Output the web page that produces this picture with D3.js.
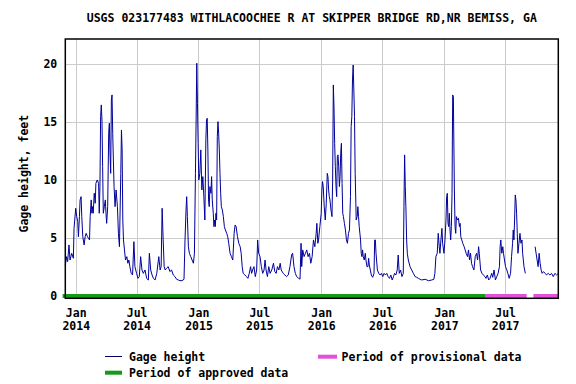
<!DOCTYPE html>
<html>
<head>
<meta charset="utf-8">
<script src="https://cdn.jsdelivr.net/npm/d3@7"></script>
<style>
  body { margin: 0; background: #fff; }
  text { font-family: "DejaVu Sans Mono", monospace; font-weight: bold; font-size: 11.5px; fill: #000; }
</style>
</head>
<body>
<div id="chart"></div>
<script>
const title = "USGS 023177483 WITHLACOOCHEE R AT SKIPPER BRIDGE RD,NR BEMISS, GA";
const yLabel = "Gage height, feet";
const origin = "2014-01-01";

// days since 2014-01-01
const days = [
  -31,-27,-24,-20,-17,-12,-7,-5,0,3,
  6,8,11,13,16,18,21,25,28,31,
  35,38,41,43,46,48,50,52,55,58,
  60,64,68,70,72,74,76,78,80,82,
  85,88,90,92,95,98,100,102,104,106,
  108,110,112,114,117,120,124,127,130,134,
  136,138,140,142,145,148,152,155,158,161,
  165,169,173,176,181,185,189,193,197,201,
  206,211,216,219,223,227,231,236,241,247,
  251,254,257,260,263,266,270,275,280,285,
  290,295,300,305,310,316,322,325,328,330,
  332,335,338,342,346,350,353,356,358,360,
  362,364,366,369,372,375,378,381,384,385,
  387,389,391,393,395,397,399,402,404,406,
  409,411,413,415,417,419,421,423,425,427,
  429,431,433,436,439,442,445,449,452,455,
  459,463,467,471,474,477,481,485,489,492,
  495,498,503,508,512,516,520,523,526,530,
  534,538,541,544,548,552,556,560,563,566,
  570,574,578,583,588,592,596,600,604,608,
  611,617,622,627,632,637,642,645,649,653,
  657,663,667,670,672,675,679,683,687,691,
  695,699,703,707,711,715,717,720,722,726,
  730,732,734,736,739,742,745,748,750,752,
  754,756,759,762,764,766,768,770,772,774,
  776,778,780,782,784,786,788,790,792,794,
  796,799,802,805,808,811,814,817,819,821,
  823,825,827,829,831,833,834,837,839,841,
  843,845,847,849,851,853,855,858,861,863,
  866,869,871,873,876,879,883,887,889,891,
  893,897,901,905,909,913,917,921,925,929,
  933,937,941,945,948,952,956,959,962,966,
  970,974,976,978,980,982,984,986,989,994,
  999,1004,1009,1014,1019,1024,1029,1039,1049,1059,
  1065,1068,1071,1075,1078,1081,1083,1086,1089,1091,
  1095,1098,1101,1103,1105,1107,1109,1111,1113,1115,
  1117,1119,1120,1121,1123,1124,1126,1128,1130,1132,
  1135,1138,1141,1143,1145,1148,1151,1155,1158,1161,
  1165,1168,1171,1174,1177,1180,1184,1188,1192,1195,
  1198,1200,1204,1208,1212,1217,1220,1224,1228,1232,
  1237,1240,1244,1248,1252,1256,1260,1262,1264,1267,
  1270,1272,1275,1278,1282,1285,1289,1293,1296,1299,
  1301,1303,1305,1307,1309,1311,1313,1315,1318,1321,
  1324,1327,1329,1333,1337,1350,1366,1369,1372,1375,
  1378,1381,1384,1387,1391,1396,1400,1405,1410,1415,
  1420,1425,1430,1435
];

// gage height, feet (null = no data)
const gage = [
  2.67,3.39,2.96,4.40,3.10,3.68,3.25,5.83,7.56,6.84,
  6.41,5.11,6.84,8.28,8.56,6.84,5.11,4.40,5.11,5.40,
  5.11,4.97,4.83,6.84,8.28,7.13,7.70,7.13,8.85,7.99,
  9.71,10.0,9.71,7.13,9.43,15.46,16.47,15.17,11.15,7.13,
  7.70,8.28,7.13,6.26,7.70,14.02,14.89,12.30,10.57,16.90,
  17.33,14.02,11.72,9.43,7.70,9.14,7.70,5.40,4.25,10.57,
  14.31,12.59,6.55,4.83,3.97,3.10,3.39,2.82,3.10,2.53,
  1.95,1.81,4.68,2.53,1.95,1.52,1.67,3.39,2.24,1.95,
  2.24,1.52,1.38,3.68,2.24,1.81,1.52,1.38,1.95,3.39,
  2.24,2.53,7.56,4.83,2.53,2.24,2.39,2.53,2.10,2.24,
  1.81,1.67,1.44,1.38,1.32,1.32,1.44,4.83,7.41,8.56,
  6.84,4.25,3.68,3.39,3.10,2.82,3.68,10.57,15.17,20.06,
  16.61,13.16,10.0,10.57,12.59,9.14,10.29,8.56,6.55,8.85,
  13.45,15.17,15.32,12.59,8.28,7.70,9.43,8.85,10.29,8.28,
  7.13,5.98,6.55,5.98,7.13,6.55,13.74,15.03,14.02,12.59,
  10.57,8.85,7.70,7.41,6.84,5.98,5.69,5.40,5.11,4.54,
  3.68,3.39,3.10,5.40,6.12,5.98,5.11,4.54,4.25,3.68,
  2.53,1.95,1.81,1.67,1.52,1.95,2.53,1.95,2.24,2.53,
  1.67,2.24,4.83,3.68,3.39,2.53,1.95,2.24,3.10,2.24,
  1.67,2.53,1.95,2.24,2.82,2.10,1.95,2.53,2.24,2.82,
  2.24,1.95,1.81,1.67,1.81,2.53,3.53,3.68,2.53,1.95,
  1.67,1.52,1.45,4.54,2.53,3.97,3.39,3.68,3.97,3.39,
  3.68,2.82,3.39,4.83,4.25,5.40,6.26,4.54,4.83,5.98,
  7.13,9.14,9.86,9.43,7.70,6.55,7.99,10.57,10.29,9.14,
  8.56,8.28,7.41,6.84,10.0,18.19,16.32,13.16,11.15,9.43,
  8.56,12.01,12.16,11.15,9.43,10.29,12.30,13.16,9.71,7.13,
  6.84,6.26,5.69,4.83,4.54,5.40,5.69,8.56,14.60,15.46,
  18.62,19.91,17.76,15.46,10.57,7.99,6.55,6.84,7.70,6.84,
  5.98,5.40,4.83,3.68,3.39,3.97,3.39,3.10,3.68,3.10,
  2.53,2.53,3.25,2.67,2.24,1.81,1.61,1.95,4.83,4.83,
  3.68,2.24,1.95,1.81,1.95,1.67,1.95,1.81,1.95,1.67,
  1.52,1.81,1.38,1.67,1.95,1.81,2.24,3.53,1.95,2.24,
  1.67,1.95,7.70,12.16,9.43,7.41,4.83,3.68,3.10,2.53,
  2.24,1.95,1.67,1.61,1.52,1.44,1.38,1.44,1.32,1.38,
  1.44,1.95,3.39,3.68,5.40,4.25,3.68,4.83,5.83,4.54,
  3.68,4.83,6.55,8.56,8.85,6.26,5.98,7.13,5.69,4.83,
  5.98,8.85,13.45,17.33,17.18,14.31,9.14,5.98,5.40,6.84,
  6.55,6.70,5.98,6.26,5.11,4.83,4.54,4.25,3.97,3.68,
  3.39,3.97,3.10,3.68,2.82,2.53,2.24,3.39,3.68,3.10,
  4.25,3.68,2.24,1.95,1.81,1.67,1.52,1.81,1.38,1.52,
  1.95,1.61,2.24,1.38,1.67,1.95,2.53,4.25,4.83,3.68,
  4.25,3.68,3.10,2.53,2.24,1.95,1.52,1.95,3.39,4.54,
  5.69,4.83,6.55,8.71,8.28,7.13,5.40,3.68,4.54,5.40,
  4.54,4.83,3.68,2.53,1.95,null,4.25,3.68,3.10,2.53,
  3.68,2.82,2.24,1.95,2.10,1.95,1.81,1.95,1.81,1.95,
  1.67,1.95,1.81,1.95
];

const periodStart = ["2013-11-23", "2017-05-02", "2017-09-23"];
const periodEnd   = ["2017-05-02", "2017-09-03", "2017-12-06"];
const periodKind  = ["approved", "provisional", "provisional"];

const yTicks = [0, 5, 10, 15, 20];
const legendLabels = ["Gage height", "Period of approved data", "Period of provisional data"];

const width = 576, height = 384;
const marginTop = 39, marginRight = 17.7, marginBottom = 85.7, marginLeft = 65.3;
const lineColor = "#00009c";
const kindColor = { approved: "#159a15", provisional: "#e052d8" };

const parse = d3.utcParse("%Y-%m-%d");
const t0 = parse(origin);
const data = days.map((d, i) => ({ date: d3.utcDay.offset(t0, d), value: gage[i] }));
const periods = periodStart.map((s, i) => ({ start: parse(s), end: parse(periodEnd[i]), kind: periodKind[i] }));

const x = d3.scaleUtc()
  .domain([parse("2013-12-01"), parse("2017-12-06")])
  .range([marginLeft, width - marginRight]);

const y = d3.scaleLinear()
  .domain([-0.2, 22.15])
  .range([height - marginBottom, marginTop]);

const svg = d3.select("#chart").append("svg")
  .attr("width", width)
  .attr("height", height)
  .attr("viewBox", [0, 0, width, height]);

svg.append("rect").attr("width", width).attr("height", height).attr("fill", "#fff");

const xTicks = x.ticks(d3.utcMonth.every(6));

// grid
svg.append("g")
  .attr("stroke", "#cccccc")
  .attr("stroke-width", 1)
  .selectAll("line")
  .data(xTicks)
  .join("line")
    .attr("x1", d => Math.round(x(d)) + 0.5)
    .attr("x2", d => Math.round(x(d)) + 0.5)
    .attr("y1", marginTop)
    .attr("y2", height - marginBottom);

svg.append("g")
  .attr("stroke", "#cccccc")
  .attr("stroke-width", 1)
  .selectAll("line")
  .data(yTicks.filter(d => d > 0))
  .join("line")
    .attr("x1", marginLeft)
    .attr("x2", width - marginRight)
    .attr("y1", d => Math.round(y(d)) + 0.5)
    .attr("y2", d => Math.round(y(d)) + 0.5);

// data line
const line = d3.line()
  .defined(d => d.value != null)
  .x(d => x(d.date))
  .y(d => y(d.value));

svg.append("path")
  .datum(data)
  .attr("fill", "none")
  .attr("stroke", lineColor)
  .attr("stroke-width", 1)
  .attr("stroke-linejoin", "miter")
  .attr("d", line);

// approval periods along zero
svg.append("g")
  .selectAll("rect")
  .data(periods)
  .join("rect")
    .attr("x", d => x(d.start))
    .attr("width", d => x(d.end) - x(d.start))
    .attr("y", y(0) - 2)
    .attr("height", 4)
    .attr("fill", d => kindColor[d.kind]);

// frame
svg.append("rect")
  .attr("x", marginLeft)
  .attr("y", marginTop)
  .attr("width", width - marginLeft - marginRight)
  .attr("height", height - marginTop - marginBottom)
  .attr("fill", "none")
  .attr("stroke", "#000")
  .attr("stroke-width", 1.5);

// x axis labels
const xAxis = svg.append("g")
  .attr("transform", `translate(0,${height - marginBottom})`)
  .call(d3.axisBottom(x).tickValues(xTicks).tickSize(0).tickPadding(0).tickFormat(""))
  .call(g => g.select(".domain").remove());

xAxis.selectAll(".tick").append("text")
  .attr("text-anchor", "middle")
  .attr("fill", "#000")
  .call(t => t.append("tspan").attr("x", 0).attr("y", 19.2).text(d => d3.utcFormat("%b")(d)))
  .call(t => t.append("tspan").attr("x", 0).attr("y", 32.2).text(d => d3.utcFormat("%Y")(d)));

// y axis labels
svg.append("g")
  .attr("transform", `translate(${marginLeft},0)`)
  .call(d3.axisLeft(y).tickValues(yTicks).tickSize(0).tickPadding(8).tickFormat(d3.format("d")))
  .call(g => g.select(".domain").remove())
  .call(g => g.selectAll(".tick text").attr("font-size", null).attr("font-family", null).attr("fill", "#000"));

svg.append("text")
  .attr("transform", `translate(24,${(marginTop + height - marginBottom) / 2 + 5}) rotate(-90)`)
  .attr("text-anchor", "middle")
  .attr("dy", "0.35em")
  .text(yLabel);

// title
svg.append("text")
  .attr("x", (marginLeft + width - marginRight) / 2)
  .attr("y", 22)
  .attr("text-anchor", "middle")
  .text(title);

// legend
const legend = svg.append("g");
legend.append("line")
  .attr("x1", 105).attr("x2", 122).attr("y1", 356.5).attr("y2", 356.5)
  .attr("stroke", "#000066").attr("stroke-width", 1);
legend.append("text").attr("x", 129).attr("y", 360.5).text(legendLabels[0]);

legend.append("rect")
  .attr("x", 105).attr("y", 370.7).attr("width", 17).attr("height", 4)
  .attr("fill", kindColor.approved);
legend.append("text").attr("x", 129).attr("y", 377).text(legendLabels[1]);

legend.append("rect")
  .attr("x", 318).attr("y", 354.7).attr("width", 19).attr("height", 4)
  .attr("fill", kindColor.provisional);
legend.append("text").attr("x", 341.5).attr("y", 360.5).text(legendLabels[2]);
</script>
</body>
</html>
